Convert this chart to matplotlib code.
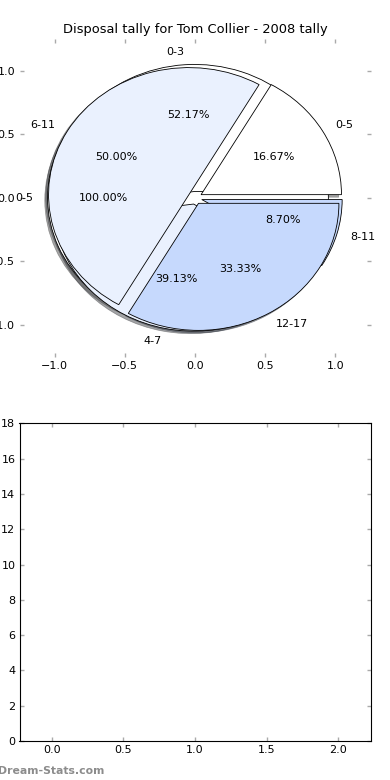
import matplotlib
matplotlib.use('Agg')
from matplotlib import pyplot as plt
from matplotlib import patches as mpatches
from matplotlib import colors as mcolors

# Data.
title = "Disposal tally for Tom Collier - 2008 tally"

labels_a = ['0-5']
values_a = [1]

labels_b = ['0-5', '6-11', '12-17']
values_b = [1, 3, 2]

labels_c = ['0-3', '4-7', '8-11']
values_c = [12, 9, 2]

colors = ['#ffffff', '#eaf1fe', '#c6d9fd']
pie_ticks = [-1.0, -0.5, 0.0, 0.5, 1.0]
bar_yticks = [0, 2, 4, 6, 8, 10, 12, 14, 16, 18]
bar_xticks = [0.0, 0.5, 1.0, 1.5, 2.0]


def draw_pie(ax, values, labels):
    wedges, texts, autotexts = ax.pie(
        values, labels=labels, colors=colors[:len(values)],
        explode=[0.05] * len(values), autopct='%1.2f%%', frame=True,
        wedgeprops={'edgecolor': 'black', 'linewidth': 0.6},
        textprops={'fontsize': 8})
    # old-style drop shadow: same wedge moved down-left in data units
    for w in wedges:
        cx, cy = w.center
        rgb = mcolors.to_rgb(w.get_facecolor())
        dark = tuple(0.3 * c for c in rgb)
        shad = mpatches.Wedge((cx - 0.02, cy - 0.02), w.r, w.theta1, w.theta2,
                              facecolor=dark, edgecolor=dark, linewidth=0.5,
                              alpha=0.5, zorder=0.9)
        ax.add_patch(shad)


def main():
    fig = plt.figure(dpi=100, figsize=(3.9, 7.8))
    plt.subplots_adjust(left=0.05, right=0.95, bottom=0.05, top=0.95,
                        hspace=0.21)

    # Top panel: three pies drawn over each other.
    ax1 = fig.add_subplot(2, 1, 1)
    draw_pie(ax1, values_a, labels_a)
    draw_pie(ax1, values_c, labels_c)
    draw_pie(ax1, values_b, labels_b)
    ax1.set_aspect('auto')
    ax1.set_frame_on(False)
    ax1.set_xlim(-1.25, 1.25)
    ax1.set_ylim(-1.25, 1.25)
    ax1.set_xticks(pie_ticks)
    ax1.set_yticks(pie_ticks)
    ax1.set_title(title, fontsize=9.4, pad=4)

    # Bottom panel: empty axes.
    ax2 = fig.add_subplot(2, 1, 2)
    ax2.set_xlim(-0.225, 2.225)
    ax2.set_ylim(0, 18)
    ax2.set_xticks(bar_xticks)
    ax2.set_yticks(bar_yticks)

    for ax in (ax1, ax2):
        ax.tick_params(direction='in', length=3, width=1, color='#aaaaaa',
                       top=True, right=True, labelsize=8, pad=3)

    fig.text(-0.004, 0.008, 'Dream-Stats.com', color='#8c8c8c',
             fontsize=7.8, fontweight='bold')

    plt.savefig('out.png', dpi=100)


if __name__ == '__main__':
    main()
